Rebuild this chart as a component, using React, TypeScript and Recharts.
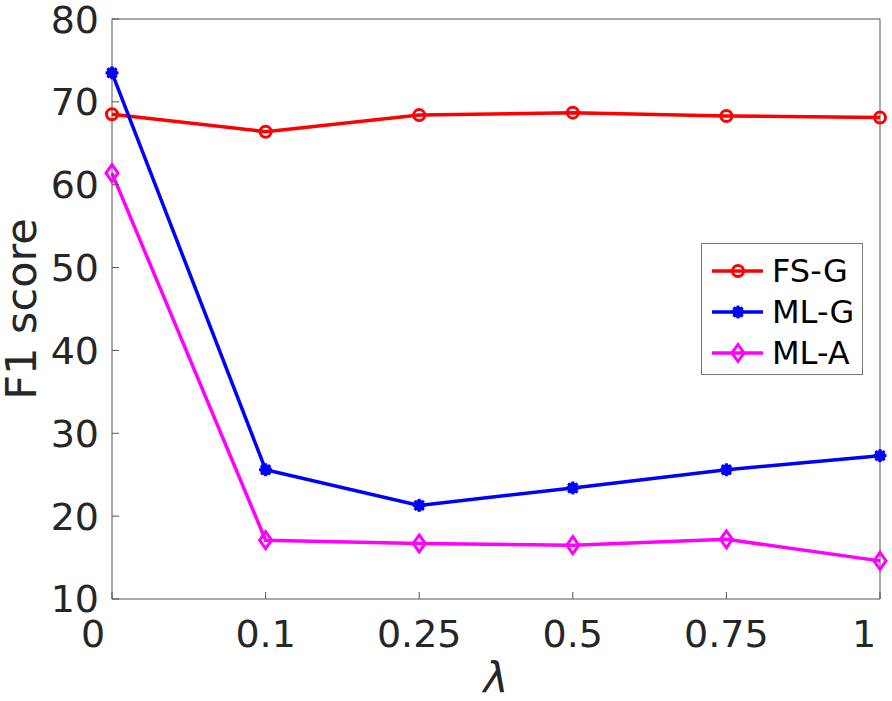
import React from "react";
import {
  LineChart,
  Line,
  XAxis,
  YAxis,
  Legend,
} from "recharts";

const lambdaLabels = ["0", "0.1", "0.25", "0.5", "0.75", "1"];
const fsG = [68.5, 66.4, 68.4, 68.7, 68.3, 68.1];
const mlG = [73.5, 25.6, 21.3, 23.4, 25.6, 27.3];
const mlA = [61.4, 17.1, 16.7, 16.5, 17.2, 14.6];
const yTicks = [10, 20, 30, 40, 50, 60, 70, 80];

const rows = lambdaLabels.map((lambda, i) => ({
  lambda,
  fsG: fsG[i],
  mlG: mlG[i],
  mlA: mlA[i],
}));

const FONT = "'DejaVu Sans', sans-serif";
const TEXT = "#262626";
const AXIS = "#555555";

const series = [
  { key: "fsG", name: "FS-G", color: "#ff0000", marker: "circle" },
  { key: "mlG", name: "ML-G", color: "#0000ff", marker: "star" },
  { key: "mlA", name: "ML-A", color: "#ff00ff", marker: "diamond" },
];

function Marker({ cx, cy, type, color }: { cx: number; cy: number; type: string; color: string }) {
  if (type === "circle") {
    return <circle cx={cx} cy={cy} r={5.5} fill="none" stroke={color} strokeWidth={3} />;
  }
  if (type === "star") {
    const s = 6.5;
    const d = 4.6;
    return (
      <g stroke={color} strokeWidth={3}>
        <line x1={cx - s} y1={cy} x2={cx + s} y2={cy} />
        <line x1={cx} y1={cy - s} x2={cx} y2={cy + s} />
        <line x1={cx - d} y1={cy - d} x2={cx + d} y2={cy + d} />
        <line x1={cx - d} y1={cy + d} x2={cx + d} y2={cy - d} />
        <circle cx={cx} cy={cy} r={4} fill={color} />
      </g>
    );
  }
  return (
    <polygon
      points={`${cx},${cy - 8.5} ${cx + 6},${cy} ${cx},${cy + 8.5} ${cx - 6},${cy}`}
      fill="none"
      stroke={color}
      strokeWidth={3}
    />
  );
}

function makeDot(type: string, color: string) {
  return (props: any) => {
    const { cx, cy, index } = props;
    if (cx == null || cy == null) return <g key={index} />;
    return (
      <g key={`${type}-${index}`}>
        <Marker cx={cx} cy={cy} type={type} color={color} />
      </g>
    );
  };
}

function XTick(props: any) {
  const { x, y, payload } = props;
  // first and last labels are pulled inwards, as in the original figure
  const last = lambdaLabels.length - 1;
  const shift = payload.index === 0 ? -19 : payload.index === last ? -16 : 0;
  return (
    <text
      x={x + shift}
      y={y}
      dy="0.71em"
      textAnchor="middle"
      fontSize={38}
      fontFamily={FONT}
      fill={TEXT}
    >
      {payload.value}
    </text>
  );
}

function LegendBox() {
  return (
    <div
      style={{
        border: "1.5px solid #777",
        background: "#fff",
        width: 162,
        height: 132,
        boxSizing: "border-box",
        paddingTop: 6,
      }}
    >
      {series.map((s) => (
        <div key={s.key} style={{ display: "flex", alignItems: "center", height: 41 }}>
          <svg width={62} height={30} style={{ marginLeft: 8 }}>
            <line x1={2} y1={15} x2={53} y2={15} stroke={s.color} strokeWidth={3.5} />
            <Marker cx={28} cy={15} type={s.marker} color={s.color} />
          </svg>
          <span style={{ fontFamily: FONT, fontSize: 32, color: "#000", lineHeight: "30px" }}>
            {s.name}
          </span>
        </div>
      ))}
    </div>
  );
}

export default function App() {
  return (
    <div style={{ position: "absolute", left: 0, top: 0, background: "#fff" }}>
      <LineChart
        width={892}
        height={701}
        data={rows}
        margin={{ top: 18, right: 11, bottom: 0, left: 0 }}
      >
        <XAxis
          dataKey="lambda"
          type="category"
          height={102}
          stroke={AXIS}
          tickSize={-7}
          tickMargin={28}
          tick={<XTick />}
          interval={0}
          label={{
            value: "λ",
            position: "insideBottom",
            offset: 8,
            style: { fontSize: 42, fontStyle: "italic", fontFamily: FONT, fill: TEXT },
          }}
        />
        <XAxis
          xAxisId="top"
          dataKey="lambda"
          type="category"
          orientation="top"
          height={1}
          stroke={AXIS}
          tickSize={-7}
          tick={false}
          interval={0}
        />
        <YAxis
          yAxisId="left"
          domain={[10, 80]}
          ticks={yTicks}
          width={112}
          stroke={AXIS}
          tickSize={-7}
          tickMargin={20}
          interval={0}
          tick={{ fontSize: 38, fontFamily: FONT, fill: TEXT }}
          label={{
            value: "F1 score",
            angle: -90,
            position: "center",
            dx: -35,
            style: { fontSize: 43, fontFamily: FONT, fill: TEXT, textAnchor: "middle" },
          }}
        />
        <YAxis
          yAxisId="right"
          orientation="right"
          domain={[10, 80]}
          ticks={yTicks}
          width={1}
          stroke={AXIS}
          tickSize={-7}
          tick={false}
          interval={0}
        />
        <Legend
          content={<LegendBox />}
          layout="vertical"
          align="center"
          verticalAlign="middle"
          wrapperStyle={{ position: "absolute", left: 701, top: 243, width: 162, height: 132 }}
        />
        {series.map((s) => (
          <Line
            key={s.key}
            yAxisId="left"
            dataKey={s.key}
            name={s.name}
            stroke={s.color}
            strokeWidth={3.5}
            type="linear"
            dot={makeDot(s.marker, s.color)}
            activeDot={false}
            isAnimationActive={false}
          />
        ))}
      </LineChart>
    </div>
  );
}
